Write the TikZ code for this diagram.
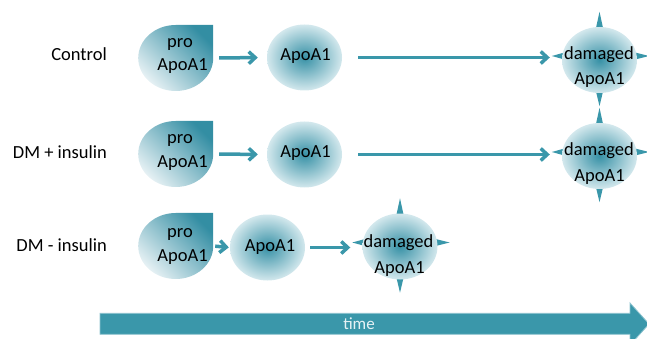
\documentclass[tikz,border=0pt]{standalone}
\usepackage{fontspec}
\setmainfont{Carlito}
\usetikzlibrary{arrows.meta,shapes.geometric}
\definecolor{teal1}{HTML}{3A97AA}
\definecolor{shin}{HTML}{3791A6}
\definecolor{shout}{HTML}{D3E8ED}
\definecolor{prolight}{HTML}{E6F1F4}
\definecolor{prodark}{HTML}{338EA3}
\definecolor{timetext}{HTML}{E6F2F5}
\definecolor{timeedge}{HTML}{8EC3CF}
\pgfdeclarelayer{bg}
\pgfsetlayers{bg,main}
\begin{document}
\begin{tikzpicture}[x=1pt,y=-1pt,
  blob/.style={ellipse, minimum width=75pt, minimum height=66pt, inner sep=0pt, inner color=shin, outer color=shout},
  probox/.style={minimum width=75pt, minimum height=66pt, inner sep=0pt},
  proshade/.style={left color=prolight, right color=prodark, shading angle=135},
  txt/.style={font=\fontsize{18.5}{24}\selectfont, inner sep=0pt, anchor=base},
  rowlbl/.style={font=\fontsize{18.5}{24}\selectfont, inner sep=0pt, anchor=base east},
  flow/.style={draw=teal1, line width=3.5pt, -{Straight Barb[length=6.5pt,width=12pt]}},
  spike/.style={fill=teal1},
  timebar/.style={fill=teal1, draw=timeedge, line width=0.8pt}]
\useasboundingbox (0,0) rectangle (647,339);

% ---------- row labels
\node[rowlbl] (lc) at (107,61) {Control};
\node[rowlbl] (lp) at (107,159) {DM + insulin};
\node[rowlbl] (lm) at (107,251) {DM - insulin};

% ---------- pro ApoA1 shapes
\node[probox] (p1) at (175.5,58) {};
\node[probox] (p2) at (175.5,154) {};
\node[probox] (p3) at (175.5,246) {};
\foreach \p in {p1,p2,p3}{
  \shade[proshade] (\p.north) -- (\p.north east) -- (\p.east)
    arc[start angle=0,end angle=270,x radius=37.5,y radius=33] -- cycle;
}
\node[txt] (p1a) at (180,47.5) {pro};
\node[txt] (p1b) at (182.5,71) {ApoA1};
\node[txt] (p2a) at (180,144) {pro};
\node[txt] (p2b) at (182.5,167.5) {ApoA1};
\node[txt] (p3a) at (180,237.6) {pro};
\node[txt] (p3b) at (182.5,261) {ApoA1};

% ---------- ApoA1 ellipses
\node[blob] (a1) at (304.5,57.5) {};
\node[blob] (a2) at (304.5,154.5) {};
\node[blob] (a3) at (267.5,247.5) {};
\node[txt] (a1t) at (305.5,61) {ApoA1};
\node[txt] (a2t) at (305.5,157.5) {ApoA1};
\node[txt] (a3t) at (270,251) {ApoA1};

% ---------- damaged ApoA1
\node[blob] (d1) at (599.5,60) {};
\node[blob] (d2) at (599.5,156) {};
\node[blob] (d3) at (400,246.5) {};
\begin{pgfonlayer}{bg}
\foreach \d in {d1,d2,d3}{
  \fill[spike] (\d.north) ++(-5,8) -- ++(5,-23) -- ++(5,23) -- cycle;
  \fill[spike] (\d.south) ++(-5,-8) -- ++(5,21) -- ++(5,-21) -- cycle;
  \fill[spike] (\d.west) ++(8,-9) -- ++(-18,5) -- ++(18,5) -- cycle;
  \fill[spike] (\d.east) ++(-8,-9) -- ++(20,5) -- ++(-20,5) -- cycle;
}
\end{pgfonlayer}
\node[txt] (d1a) at (599,59.5) {damaged};
\node[txt] (d1b) at (599.5,84.5) {ApoA1};
\node[txt] (d2a) at (599,156) {damaged};
\node[txt] (d2b) at (599.5,181) {ApoA1};
\node[txt] (d3a) at (398.5,247.5) {damaged};
\node[txt] (d3b) at (399.5,273) {ApoA1};

% ---------- connectors
\draw[flow, shorten <=6pt, shorten >=9pt] (p1.east) -- (a1.west);
\draw[flow, shorten <=6pt, shorten >=9pt] (p2.east) -- (a2.west);
\draw[flow, shorten <=2pt, shorten >=1pt] (p3.east) -- (a3.west);
\draw[flow, shorten <=16pt, shorten >=12pt] (a1.east) -- (a1.east -| d1.west);
\draw[flow, shorten <=16pt, shorten >=12pt] (a2.east) -- (a2.east -| d2.west);
\draw[flow, shorten <=5pt, shorten >=12pt] (a3.east) -- (a3.east -| d3.west);

% ---------- time arrow
\draw[timebar] (100,313.3) -- (630,313.3) -- (630,303) -- (649,324)
  -- (630,345) -- (630,334.3) -- (100,334.3) -- cycle;
\node[font=\fontsize{17}{20}\selectfont, text=timetext, inner sep=0pt] (time) at (359,323.5) {time};
\end{tikzpicture}
\end{document}
